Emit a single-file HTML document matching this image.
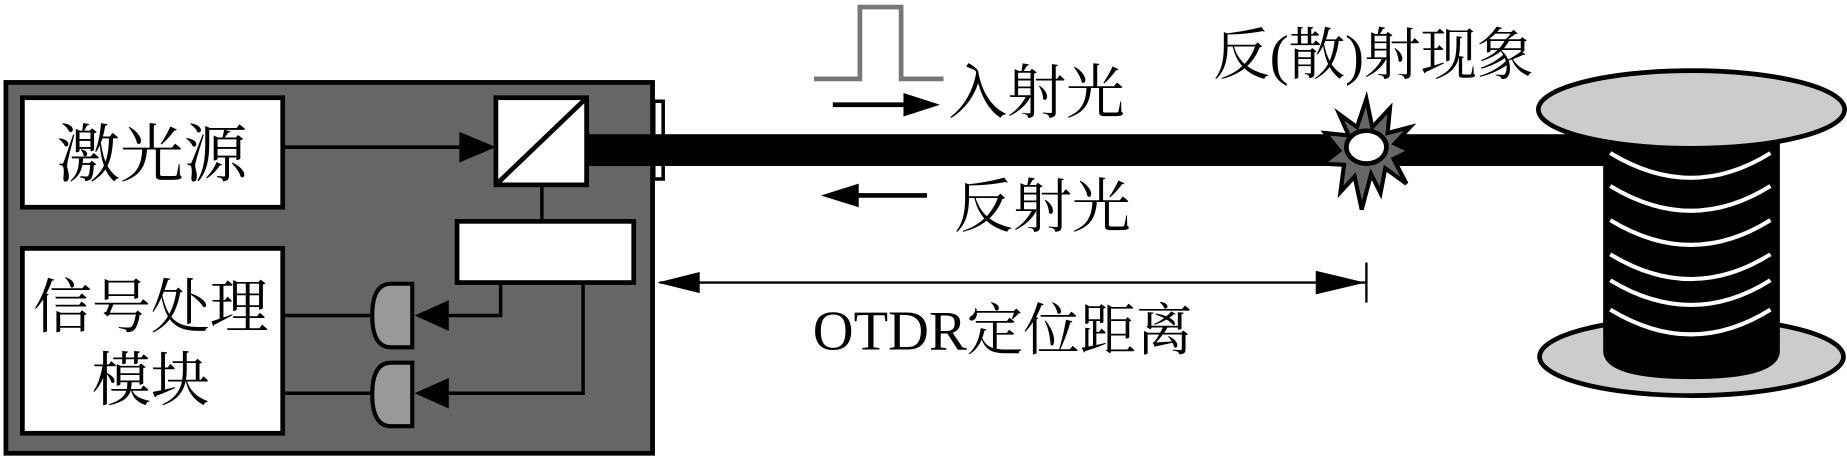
<!DOCTYPE html>
<html><head><meta charset="utf-8"><style>
html,body{margin:0;padding:0;background:#fff;}
svg{display:block;}
text{font-family:"Liberation Serif","Noto Serif CJK SC","Noto Serif CJK",serif;fill:#000;}
</style></head><body>
<svg width="1847" height="458" viewBox="0 0 1568 389" preserveAspectRatio="none" xmlns="http://www.w3.org/2000/svg">
<!-- main box -->
<rect x="5" y="70" width="549" height="315" fill="#666" stroke="#000" stroke-width="4"/>
<rect x="555" y="86" width="8" height="66" fill="#fff" stroke="#000" stroke-width="3"/>
<rect x="19" y="83" width="221" height="93" fill="#fff" stroke="#000" stroke-width="4"/>
<text x="129" y="150" font-size="54" text-anchor="middle">激光源</text>
<rect x="19" y="211" width="221" height="157" fill="#fff" stroke="#000" stroke-width="4"/>
<text x="128" y="278" font-size="50" text-anchor="middle">信号处理</text>
<text x="128" y="340" font-size="50" text-anchor="middle">模块</text>
<!-- laser arrow -->
<line x1="240" y1="125" x2="402" y2="125" stroke="#000" stroke-width="3"/>
<path d="M390,112 L421,125 L390,138 z" fill="#000"/>
<!-- splitter -->
<rect x="421" y="83" width="77" height="74" fill="#fff" stroke="#000" stroke-width="4"/>
<line x1="423" y1="155" x2="496" y2="85" stroke="#000" stroke-width="4"/>
<line x1="460" y1="157" x2="460" y2="188" stroke="#000" stroke-width="3"/>
<rect x="388" y="188" width="150" height="52" fill="#fff" stroke="#000" stroke-width="4"/>
<!-- detector lines -->
<polyline points="425,240 425,268 370,268" fill="none" stroke="#000" stroke-width="3"/>
<path d="M381,255 L352,268 L381,281 z" fill="#000"/>
<polyline points="495,240 495,334 370,334" fill="none" stroke="#000" stroke-width="3"/>
<path d="M381,321 L352,334 L381,347 z" fill="#000"/>
<line x1="240" y1="268" x2="318" y2="268" stroke="#000" stroke-width="3"/>
<line x1="240" y1="334" x2="318" y2="334" stroke="#000" stroke-width="3"/>
<path d="M350,241 L332,241 Q316,241 316,268 Q316,295 332,295 L350,295 z" fill="#999" stroke="#000" stroke-width="3.5"/>
<path d="M350,308 L332,308 Q316,308 316,335 Q316,362 332,362 L350,362 z" fill="#999" stroke="#000" stroke-width="3.5"/>
<!-- fiber -->
<rect x="498" y="114" width="865" height="27" fill="#000"/>
<!-- pulse -->
<polyline points="691,67 730,67 730,6 765,6 765,67 801,67" fill="none" stroke="#777" stroke-width="4"/>
<line x1="707" y1="89" x2="772" y2="89" stroke="#000" stroke-width="4"/>
<path d="M767,79 L798,89 L767,99 z" fill="#000"/>
<text x="805" y="96" font-size="50">入射光</text>
<line x1="720" y1="166" x2="787" y2="166" stroke="#000" stroke-width="4"/>
<path d="M729,156 L697,166 L729,176 z" fill="#000"/>
<text x="810" y="193" font-size="50">反射光</text>
<!-- dimension -->
<line x1="560" y1="240" x2="1160" y2="240" stroke="#000" stroke-width="2"/>
<path d="M558,240 L594,231 L594,249 z" fill="#000"/>
<path d="M1159,240 L1117,230 L1117,250 z" fill="#000"/>
<line x1="1160" y1="223" x2="1160" y2="257" stroke="#000" stroke-width="2"/>
<text x="690" y="297" font-size="48">OTDR定位距离</text>
<text x="1030" y="63" font-size="48">反(散)射现象</text>
<!-- starburst -->
<polygon points="1160,84 1165,108 1180,92 1178,113 1197,108 1184,122 1197,128 1183,135 1194,156 1176,143 1172,164 1164,148 1156,178 1150,150 1138,163 1141,140 1123,139 1137,128 1125,113 1145,115 1137,97 1152,108" fill="#666" stroke="#000" stroke-width="3.5"/>
<ellipse cx="1160" cy="125" rx="17" ry="14" fill="#fff" stroke="#000" stroke-width="4"/>
<!-- spool -->
<ellipse cx="1436" cy="303" rx="129" ry="33" fill="#ccc" stroke="#000" stroke-width="4"/>
<path d="M1361,118 L1361,298 Q1361,322 1436,322 Q1511,322 1511,298 L1511,118 z" fill="#000"/>
<ellipse cx="1436" cy="93" rx="130" ry="33" fill="#ccc" stroke="#000" stroke-width="4"/>
<g fill="none" stroke="#fff" stroke-width="3.5">
<path d="M1367,130 Q1436,172 1503,130"/>
<path d="M1367,158 Q1436,200 1503,158"/>
<path d="M1367,187 Q1436,229 1503,187"/>
<path d="M1367,216 Q1436,258 1503,216"/>
<path d="M1367,238 Q1436,280 1503,238"/>
<path d="M1367,263 Q1436,305 1503,263"/>
</g>
</svg>
</body></html>
